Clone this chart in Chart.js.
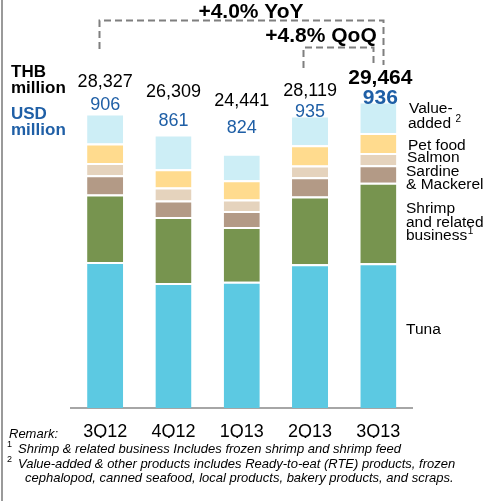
<!DOCTYPE html>
<html>
<head>
<meta charset="utf-8">
<script src="https://cdn.jsdelivr.net/npm/chart.js@4/dist/chart.umd.min.js"></script>
<style>
  html, body { margin: 0; padding: 0; background: #fff; }
  canvas { display: block; }
</style>
</head>
<body>
<canvas id="c" width="496" height="501"></canvas>
<script>
// ---- data (THB million) ----
const categories = ['3Q12', '4Q12', '1Q13', '2Q13', '3Q13'];
const tuna       = [14040, 12025, 12150, 13820, 13916];
const shrimp     = [6497, 6334, 5250, 6526, 7735];
const sardine    = [1852, 1603, 1536, 1852, 1699];
const salmon     = [1180, 1248, 1123, 1123, 1180];
const petFood    = [1862, 1756, 1852, 1948, 1919];
const valueAdded = [2896, 3343, 2530, 2850, 3015];
const totalTHB   = ['28,327', '26,309', '24,441', '28,119', '29,464'];
const totalUSD   = ['906', '861', '824', '935', '936'];
const yoyLabel = '+4.0% YoY';
const qoqLabel = '+4.8% QoQ';

// ---- layout / styles ----
const FONT = '"Liberation Sans", Arial, sans-serif';
const BLUE = '#1f5fa6';
const thbY = [82, 92, 101, 91, 78];
const usdY = [105, 121, 128, 112, 98];

const seg = (label, data, color) => ({
  label, data, backgroundColor: color,
  borderColor: '#ffffff',
  borderWidth: {top: 2, left: 0, right: 0, bottom: 0},
  borderSkipped: 'start',
  barPercentage: 0.528, categoryPercentage: 1.0
});

const overlay = {
  id: 'overlay',
  afterDraw(chart) {
    const ctx = chart.ctx;
    const xs = chart.scales.x;
    ctx.save();
    // left frame line
    ctx.fillStyle = '#9a9a9a';
    ctx.fillRect(1, 0, 2, 501);

    const txt = (s, x, y, font, color, align) => {
      ctx.font = font; ctx.fillStyle = color;
      ctx.textAlign = align || 'center'; ctx.textBaseline = 'middle';
      ctx.fillText(s, x, y);
    };
    // totals
    categories.forEach((c, i) => {
      const x = xs.getPixelForValue(i);
      const last = i === categories.length - 1;
      txt(totalTHB[i], x + (last ? 2 : 0), thbY[i], (last ? 'bold 21px ' : '18px ') + FONT, '#000');
      txt(totalUSD[i], x + (last ? 2 : 0), usdY[i], (last ? 'bold 21px ' : '18px ') + FONT, BLUE);
    });
    // unit labels
    txt('THB', 11, 72.5, 'bold 17px ' + FONT, '#000', 'left');
    txt('million', 11, 88, 'bold 17px ' + FONT, '#000', 'left');
    txt('USD', 11, 114, 'bold 17px ' + FONT, BLUE, 'left');
    txt('million', 11, 130, 'bold 17px ' + FONT, BLUE, 'left');

    // growth annotations
    txt(yoyLabel, 251, 12, 'bold 21px ' + FONT, '#000');
    txt(qoqLabel, 321, 36, 'bold 21px ' + FONT, '#000');
    ctx.strokeStyle = '#7f7f7f'; ctx.lineWidth = 2; ctx.setLineDash([7, 4]);
    ctx.beginPath();
    ctx.moveTo(99.5, 49); ctx.lineTo(99.5, 20.5); ctx.lineTo(383.5, 20.5); ctx.lineTo(383.5, 65);
    ctx.stroke();
    ctx.beginPath();
    ctx.moveTo(303.5, 68); ctx.lineTo(303.5, 47.5); ctx.lineTo(373.5, 47.5); ctx.lineTo(373.5, 67);
    ctx.stroke();
    ctx.setLineDash([]);

    // right-hand legend
    const LF = '15.5px ' + FONT;
    txt('Value-', 409, 109, LF, '#000', 'left');
    ctx.font = LF; const wAdded = ctx.measureText('added ').width;
    txt('added ', 408, 124, LF, '#000', 'left');
    txt('2', 408 + wAdded, 119, '10px ' + FONT, '#000', 'left');
    txt('Pet food', 408, 146, LF, '#000', 'left');
    txt('Salmon', 407, 158, LF, '#000', 'left');
    txt('Sardine', 406, 172, LF, '#000', 'left');
    txt('& Mackerel', 406, 185, LF, '#000', 'left');
    txt('Shrimp', 406, 209, LF, '#000', 'left');
    txt('and related', 406, 223, LF, '#000', 'left');
    ctx.font = LF; const wBus = ctx.measureText('business').width;
    txt('business', 406, 236, LF, '#000', 'left');
    txt('1', 406 + wBus + 0.5, 231, '10px ' + FONT, '#000', 'left');
    txt('Tuna', 406, 330, LF, '#000', 'left');

    // remarks
    txt('Remark:', 9, 434, 'italic 13px ' + FONT, '#000', 'left');
    txt('1', 7, 445, '9px ' + FONT, '#000', 'left');
    txt('Shrimp & related business Includes frozen shrimp and shrimp feed', 18, 449, 'italic 13px ' + FONT, '#000', 'left');
    txt('2', 7, 460, '9px ' + FONT, '#000', 'left');
    txt('Value-added & other products includes Ready-to-eat (RTE) products, frozen', 18, 464, 'italic 13px ' + FONT, '#000', 'left');
    txt('cephalopod, canned seafood, local products, bakery products, and scraps.', 25, 478.5, 'italic 13px ' + FONT, '#000', 'left');
    ctx.restore();
  }
};

new Chart(document.getElementById('c'), {
  type: 'bar',
  data: {
    labels: categories,
    datasets: [
      seg('Tuna', tuna, '#5cc9e2'),
      seg('Shrimp and related business', shrimp, '#77944f'),
      seg('Sardine & Mackerel', sardine, '#b39a86'),
      seg('Salmon', salmon, '#e5d3bd'),
      seg('Pet food', petFood, '#ffdb8e'),
      seg('Value-added', valueAdded, '#cdeef6')
    ]
  },
  options: {
    responsive: false,
    animation: false,
    layout: { padding: { left: 71, right: 83.5, top: 44, bottom: 63 } },
    plugins: { legend: { display: false }, tooltip: { enabled: false } },
    scales: {
      x: {
        stacked: true,
        offset: true,
        grid: { display: false, drawTicks: false },
        border: { display: true, color: '#a6a6a6', width: 2 },
        ticks: { color: '#000', font: { family: FONT, size: 18 }, padding: 13, maxRotation: 0 },
        afterFit(scale) { scale.height = 30; }
      },
      y: {
        stacked: true, display: false, min: 0, max: 35000
      }
    }
  },
  plugins: [overlay]
});
</script>
</body>
</html>
